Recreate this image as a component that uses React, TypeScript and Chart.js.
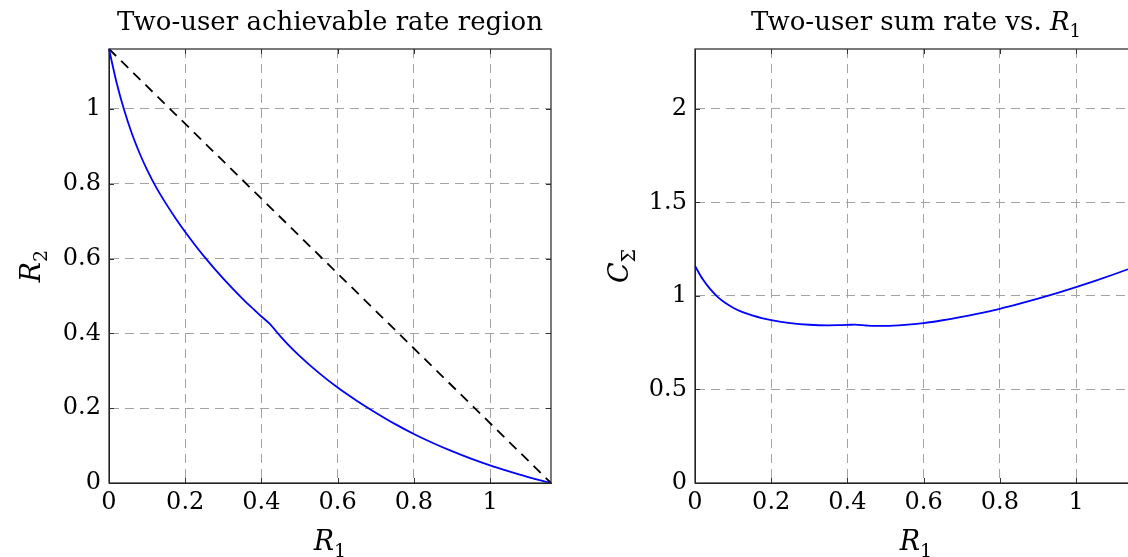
import React, { useEffect, useRef } from "react";
import { Chart, registerables } from "chart.js";

Chart.register(...registerables);

// ---- data ----
const r1Values = [0, 0.02, 0.04, 0.06, 0.08, 0.1, 0.125, 0.15, 0.175, 0.2, 0.25, 0.3, 0.35, 0.38, 0.4, 0.42, 0.45, 0.47, 0.5, 0.55, 0.6, 0.65, 0.7, 0.75, 0.8, 0.85, 0.9, 0.95, 1.0, 1.05, 1.1, 1.16];
const r2Values = [1.16, 1.07, 0.996, 0.934, 0.882, 0.837, 0.788, 0.746, 0.707, 0.671, 0.605, 0.546, 0.493, 0.464, 0.445, 0.427, 0.392, 0.37, 0.34, 0.295, 0.255, 0.22, 0.188, 0.158, 0.131, 0.107, 0.085, 0.065, 0.047, 0.031, 0.016, 0];
const sumRateValues = [1.16, 1.09, 1.036, 0.994, 0.962, 0.937, 0.913, 0.896, 0.882, 0.871, 0.855, 0.846, 0.843, 0.844, 0.845, 0.847, 0.842, 0.84, 0.84, 0.845, 0.855, 0.87, 0.888, 0.908, 0.931, 0.957, 0.985, 1.015, 1.047, 1.081, 1.116, 1.16];
const diagonalX = [0, 1.16];
const diagonalY = [1.16, 0];

const rateTicks = [0, 0.2, 0.4, 0.6, 0.8, 1];
const rateTickLabels = ["0", "0.2", "0.4", "0.6", "0.8", "1"];
const sumTicks = [0, 0.5, 1, 1.5, 2];
const sumTickLabels = ["0", "0.5", "1", "1.5", "2"];

const RATE_MAX = 1.16;
const SUM_MAX = 2.32;

const FONT = '"DejaVu Serif", serif';

type Seg = { t: string; it?: boolean; sub?: boolean };

function drawRich(ctx: CanvasRenderingContext2D, segs: Seg[], x: number, y: number, size: number) {
  const fontOf = (s: Seg) => `${s.it ? "italic " : ""}${s.sub ? Math.round(size * 0.7) : size}px ${FONT}`;
  let total = 0;
  for (const s of segs) {
    ctx.font = fontOf(s);
    total += ctx.measureText(s.t).width;
  }
  let cx = x - total / 2;
  ctx.textAlign = "left";
  ctx.textBaseline = "alphabetic";
  ctx.fillStyle = "#000";
  for (const s of segs) {
    ctx.font = fontOf(s);
    ctx.fillText(s.t, cx, y + (s.sub ? size * 0.26 : 0));
    cx += ctx.measureText(s.t).width;
  }
}

const framePlugin = {
  id: "frameAndLabels",
  afterDraw(chart: any, _args: any, opts: any) {
    const ctx: CanvasRenderingContext2D = chart.ctx;
    const a = chart.chartArea;
    const xs = chart.scales.x;
    const ys = chart.scales.y;
    ctx.save();
    // inner tick marks
    ctx.strokeStyle = "#333";
    ctx.lineWidth = 1;
    const tl = 5;
    for (const v of opts.xTicks) {
      const px = Math.round(xs.getPixelForValue(v)) + 0.5;
      ctx.beginPath();
      ctx.moveTo(px, a.bottom);
      ctx.lineTo(px, a.bottom - tl);
      ctx.moveTo(px, a.top);
      ctx.lineTo(px, a.top + tl);
      ctx.stroke();
    }
    for (const v of opts.yTicks) {
      const py = Math.round(ys.getPixelForValue(v)) + 0.5;
      ctx.beginPath();
      ctx.moveTo(a.left, py);
      ctx.lineTo(a.left + tl, py);
      ctx.moveTo(a.right, py);
      ctx.lineTo(a.right - tl, py);
      ctx.stroke();
    }
    // frame
    ctx.strokeStyle = "#222";
    ctx.lineWidth = 1.2;
    ctx.strokeRect(a.left, a.top, a.right - a.left, a.bottom - a.top);
    // title
    drawRich(ctx, opts.title, (a.left + a.right) / 2, a.top - 19, 26);
    // x label
    drawRich(ctx, opts.xLabel, (a.left + a.right) / 2, a.bottom + 67, 27);
    // y label rotated
    ctx.save();
    ctx.translate(a.left - opts.yLabelOffset, (a.top + a.bottom) / 2);
    ctx.rotate(-Math.PI / 2);
    drawRich(ctx, opts.yLabel, 0, 0, 27);
    ctx.restore();
    ctx.restore();
  },
};

function makeScale(max: number, ticks: number[], labels: string[], axis: "x" | "y") {
  return {
    type: "linear" as const,
    min: 0,
    max,
    afterBuildTicks: (scale: any) => {
      scale.ticks = ticks.map((v) => ({ value: v }));
    },
    afterFit: (scale: any) => {
      if (axis === "y") scale.width = 109;
      else scale.height = 74;
    },
    ticks: {
      callback: (_v: any, i: number) => labels[i],
      font: { family: FONT, size: 24 },
      color: "#000",
      padding: axis === "y" ? 8 : 5,
      maxRotation: 0,
      autoSkip: false,
    },
    grid: {
      color: "#a3a3a3",
      lineWidth: 1,
      drawTicks: false,
    },
    border: {
      display: true,
      color: "#222",
      dash: [9, 6],
    },
  };
}

function Panel(props: { left: number; which: "region" | "sum" }) {
  const ref = useRef<HTMLCanvasElement | null>(null);
  useEffect(() => {
    if (!ref.current) return;
    const isRegion = props.which === "region";
    const datasets: any[] = [];
    if (isRegion) {
      datasets.push({
        data: r1Values.map((x, i) => ({ x, y: r2Values[i] })),
        borderColor: "#0000ff",
        borderWidth: 1.8,
        pointRadius: 0,
        showLine: true,
        cubicInterpolationMode: "monotone",
        clip: 3,
      });
      datasets.push({
        data: diagonalX.map((x, i) => ({ x, y: diagonalY[i] })),
        borderColor: "#000",
        borderWidth: 1.8,
        borderDash: [10, 7],
        pointRadius: 0,
        showLine: true,
        clip: 3,
      });
    } else {
      datasets.push({
        data: r1Values.map((x, i) => ({ x, y: sumRateValues[i] })),
        borderColor: "#0000ff",
        borderWidth: 1.8,
        pointRadius: 0,
        showLine: true,
        cubicInterpolationMode: "monotone",
        clip: 3,
      });
    }
    const chart = new Chart(ref.current, {
      type: "scatter",
      data: { datasets },
      options: {
        animation: false,
        responsive: false,
        maintainAspectRatio: false,
        devicePixelRatio: 1,
        layout: { padding: { top: 49, right: 9, left: 0, bottom: 0 } },
        plugins: {
          legend: { display: false },
          tooltip: { enabled: false },
          frameAndLabels: isRegion
            ? {
                xTicks: rateTicks,
                yTicks: rateTicks,
                title: [{ t: "Two-user achievable rate region" }],
                xLabel: [{ t: "R", it: true }, { t: "1", sub: true }],
                yLabel: [{ t: "R", it: true }, { t: "2", sub: true }],
                yLabelOffset: 69,
              }
            : {
                xTicks: rateTicks,
                yTicks: sumTicks,
                title: [{ t: "Two-user sum rate vs. " }, { t: "R", it: true }, { t: "1", sub: true }],
                xLabel: [{ t: "R", it: true }, { t: "1", sub: true }],
                yLabel: [{ t: "C", it: true }, { t: "Σ", sub: true }],
                yLabelOffset: 67,
              },
        } as any,
        scales: {
          x: makeScale(RATE_MAX, rateTicks, rateTickLabels, "x"),
          y: isRegion
            ? makeScale(RATE_MAX, rateTicks, rateTickLabels, "y")
            : makeScale(SUM_MAX, sumTicks, sumTickLabels, "y"),
        } as any,
      },
      plugins: [framePlugin],
    });
    return () => chart.destroy();
  }, [props.which]);
  return (
    <canvas
      ref={ref}
      width={560}
      height={557}
      style={{ position: "absolute", left: props.left, top: 0, width: 560, height: 557 }}
    />
  );
}

export default function App() {
  return (
    <div
      style={{
        position: "fixed",
        left: 0,
        top: 0,
        width: 1128,
        height: 557,
        overflow: "hidden",
        background: "#fff",
      }}
    >
      <Panel left={0} which="region" />
      <Panel left={586} which="sum" />
    </div>
  );
}
